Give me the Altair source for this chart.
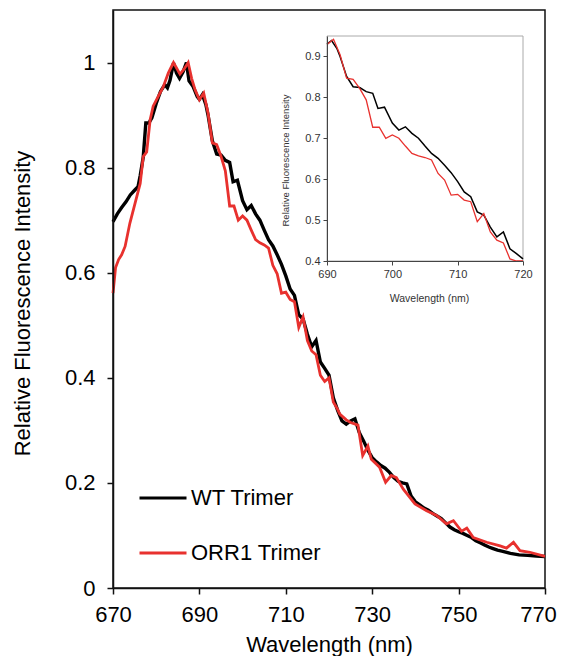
import altair as alt
import pandas as pd

# ---------------- data ----------------
wt_wl = [670, 671, 672, 673, 674, 675, 675.8, 676.3, 677, 677.6, 678.3, 679, 680, 681, 682, 682.6, 683.2,
         684, 684.7, 685.4, 686.2, 687, 687.6, 688.5, 689.5, 690, 690.7, 691.5, 692, 693, 694, 695, 696,
         697, 697.8, 698.8, 700, 701, 702, 703, 704, 705, 706, 707, 708, 709, 710, 711, 712, 713, 714,
         715, 716, 717, 718, 719, 720, 721, 722, 723, 724, 725, 726, 727, 728, 729, 730, 731, 732, 733,
         734, 735, 736, 737, 738, 739, 740, 741, 742, 743, 744, 745, 746, 747, 748, 749, 750, 751, 752,
         753, 754, 755, 756, 757, 758, 759, 760, 762, 764, 766, 768, 770]
wt_val = [0.697, 0.712, 0.724, 0.735, 0.748, 0.757, 0.764, 0.785, 0.82, 0.885, 0.885, 0.895, 0.922, 0.945,
          0.958, 0.952, 0.966, 0.999, 0.98, 0.97, 0.982, 1.0, 0.965, 0.955, 0.935, 0.93, 0.939, 0.92, 0.90,
          0.851, 0.826, 0.824, 0.814, 0.81, 0.773, 0.776, 0.737, 0.72, 0.728, 0.712, 0.70, 0.681, 0.663,
          0.651, 0.634, 0.616, 0.594, 0.569, 0.557, 0.52, 0.512, 0.483, 0.459, 0.471, 0.43, 0.418, 0.405,
          0.362, 0.338, 0.318, 0.312, 0.318, 0.322, 0.296, 0.28, 0.262, 0.248, 0.24, 0.233, 0.228, 0.22,
          0.21, 0.203, 0.2, 0.198, 0.175, 0.164, 0.158, 0.152, 0.148, 0.142, 0.137, 0.132, 0.124, 0.116,
          0.111, 0.107, 0.104, 0.1, 0.096, 0.09, 0.086, 0.082, 0.078, 0.075, 0.072, 0.07, 0.066, 0.063,
          0.062, 0.061, 0.06]

orr_wl = [670, 670.6, 671.3, 672, 672.8, 673.9, 675.1, 676.3, 677, 677.8, 678.6, 679.3, 680.5, 681.6,
          682.8, 684, 685.5, 686.4, 687.4, 688.2, 689, 690, 691, 692, 693, 694, 695, 696, 697, 698,
          699, 700, 701, 702, 703, 704, 705, 706, 707, 708, 709, 710, 711, 712, 713, 714, 715, 716, 717,
          718, 719, 720, 721, 722, 722.5, 724, 725, 726.7, 727.8, 729, 729.8, 731.7, 733.1, 734.4, 735.6,
          737.2, 739.9, 742.6, 744.9, 747.2, 748.8, 750.7, 751.9, 753.4, 756.5, 759.6, 761.1, 762.7,
          764.2, 766.5, 770]
orr_val = [0.561, 0.61, 0.625, 0.634, 0.65, 0.694, 0.732, 0.77, 0.821, 0.83, 0.891, 0.917, 0.936, 0.953,
           0.98, 1.0, 0.978, 0.987, 1.0, 0.97, 0.948, 0.929, 0.942, 0.904, 0.847, 0.844, 0.822, 0.794,
           0.727, 0.727, 0.70, 0.708, 0.70, 0.681, 0.663, 0.657, 0.653, 0.647, 0.614, 0.598, 0.561, 0.563,
           0.549, 0.545, 0.496, 0.516, 0.471, 0.451, 0.444, 0.405, 0.393, 0.40, 0.354, 0.34, 0.331, 0.32,
           0.315, 0.31, 0.252, 0.27, 0.245, 0.23, 0.201, 0.214, 0.21, 0.188, 0.16, 0.147, 0.138, 0.122,
           0.128, 0.108, 0.114, 0.096, 0.087, 0.08, 0.076, 0.087, 0.071, 0.068, 0.06]

series_names = ["WT Trimer", "ORR1 Trimer"]
series_colors = ["#000000", "#e8312e"]

x_ticks = [670, 690, 710, 730, 750, 770]
y_ticks = [0, 0.2, 0.4, 0.6, 0.8, 1.0]
x_domain = [670, 770]
y_domain = [0, 1.1]

inset_x_domain = [690, 720]
inset_y_domain = [0.4, 0.95]
inset_x_ticks = [690, 700, 710, 720]
inset_y_ticks = [0.4, 0.5, 0.6, 0.7, 0.8, 0.9]

df = pd.concat([
    pd.DataFrame({"wl": wt_wl, "val": wt_val, "series": series_names[0]}),
    pd.DataFrame({"wl": orr_wl, "val": orr_val, "series": series_names[1]}),
], ignore_index=True)

box_df = pd.DataFrame({"x0": [inset_x_domain[0]], "x1": [inset_x_domain[1]],
                       "y0": [inset_y_domain[0]], "y1": [inset_y_domain[1]]})

FONT = "Liberation Sans"
W, H = 432, 578

color = alt.Color(
    "series:N",
    scale=alt.Scale(domain=series_names, range=series_colors),
    legend=alt.Legend(
        title=None, orient="none", legendX=25, legendY=463,
        symbolType="stroke", symbolSize=2209, symbolStrokeWidth=3,
        labelFontSize=22, labelFont=FONT, labelColor="#000000", labelOffset=3,
        rowPadding=19,
    ),
)

main_x = alt.X(
    "wl:Q", scale=alt.Scale(domain=x_domain, nice=False),
    axis=alt.Axis(values=x_ticks, format="d", title="Wavelength (nm)", grid=False,
                  orient="bottom", domainColor="#111111", domainWidth=1.5, tickColor="#111111",
                  tickWidth=1.5, tickSize=6, labelFont=FONT, labelFontSize=22, labelColor="#000000",
                  labelPadding=10,
                  labelOffset={"condition": {"test": "datum.value == 770", "value": -7}, "value": 0},
                  titleFont=FONT, titleFontSize=22, titleFontWeight="normal",
                  titleColor="#000000", titleX=216, titleY=56, titleBaseline="middle",
                  labelFlush=False, zindex=1),
)
main_y = alt.Y(
    "val:Q", scale=alt.Scale(domain=y_domain, nice=False),
    axis=alt.Axis(values=y_ticks, format="~g", title="Relative Fluorescence Intensity", grid=False,
                  orient="left", domainColor="#111111", domainWidth=1.5, tickColor="#111111",
                  tickWidth=1.5, tickSize=6, labelFont=FONT, labelFontSize=22, labelColor="#000000",
                  labelPadding=12, titleFont=FONT, titleFontSize=22, titleFontWeight="normal",
                  titleColor="#000000", titleX=-91, titleY=293, titleBaseline="middle",
                  labelFlush=False, zindex=1),
)

base = alt.Chart(df)
main_black = base.transform_filter(alt.datum.series == series_names[0]).mark_line(
    strokeWidth=3.4).encode(x=main_x, y=main_y, color=color)
main_red = base.transform_filter(alt.datum.series == series_names[1]).mark_line(
    strokeWidth=2.8).encode(x=main_x, y=main_y, color=color)
main = alt.layer(main_black, main_red)

inset_xs = alt.Scale(domain=inset_x_domain, range=[214, 410], nice=False, clamp=True)
inset_ys = alt.Scale(domain=inset_y_domain, range=[251, 26], nice=False, clamp=True)

inset_x_axis = alt.Axis(values=inset_x_ticks, format="d", title="Wavelength (nm)", grid=False,
                        orient="bottom", offset=-327, domainColor="#444444", domainWidth=1,
                        tickColor="#444444", tickSize=4, labelFont=FONT, labelFontSize=11,
                        labelColor="#333333", labelPadding=3, titleFont=FONT, titleFontSize=10.5,
                        titleFontWeight="normal", titleColor="#333333", titleX=316, titleY=37,
                        titleBaseline="middle", labelFlush=False, zindex=2)
inset_y_axis = alt.Axis(values=inset_y_ticks, format=".1f", title="Relative Fluorescence Intensity",
                        grid=False, orient="left", offset=-214, domainColor="#444444", domainWidth=1,
                        tickColor="#444444", tickSize=4, labelFont=FONT, labelFontSize=11,
                        labelColor="#333333", labelPadding=3, titleFont=FONT, titleFontSize=9.5,
                        titleFontWeight="normal", titleColor="#333333", titleX=-42, titleY=150,
                        titleBaseline="middle", labelFlush=False, zindex=2)

inset_box = alt.Chart(box_df).mark_rect(fill="white", stroke="#aaaaaa", strokeWidth=1).encode(
    x=alt.X("x0:Q", scale=inset_xs, axis=inset_x_axis),
    x2="x1:Q",
    y=alt.Y("y0:Q", scale=inset_ys, axis=inset_y_axis),
    y2="y1:Q",
)
inset_base = alt.Chart(df).transform_filter(
    (alt.datum.wl >= inset_x_domain[0]) & (alt.datum.wl <= inset_x_domain[1]))
inset_black = inset_base.transform_filter(alt.datum.series == series_names[0]).mark_line(
    strokeWidth=1.5).encode(
    x=alt.X("wl:Q", scale=inset_xs, axis=inset_x_axis),
    y=alt.Y("val:Q", scale=inset_ys, axis=inset_y_axis),
    color=color)
inset_red = inset_base.transform_filter(alt.datum.series == series_names[1]).mark_line(
    strokeWidth=1.3).encode(
    x=alt.X("wl:Q", scale=inset_xs, axis=inset_x_axis),
    y=alt.Y("val:Q", scale=inset_ys, axis=inset_y_axis),
    color=color)
inset = alt.layer(inset_box, inset_black, inset_red)

chart = alt.layer(main, inset).resolve_scale(x="independent", y="independent").properties(
    width=W, height=H,
    autosize=alt.AutoSizeParams(type="none"),
    padding={"left": 105, "top": 2, "right": 12, "bottom": 68},
    background="white",
).configure_view(stroke="#111111", strokeWidth=1.5)

chart.save("out.html", embed_options={"renderer": "svg", "actions": False})
